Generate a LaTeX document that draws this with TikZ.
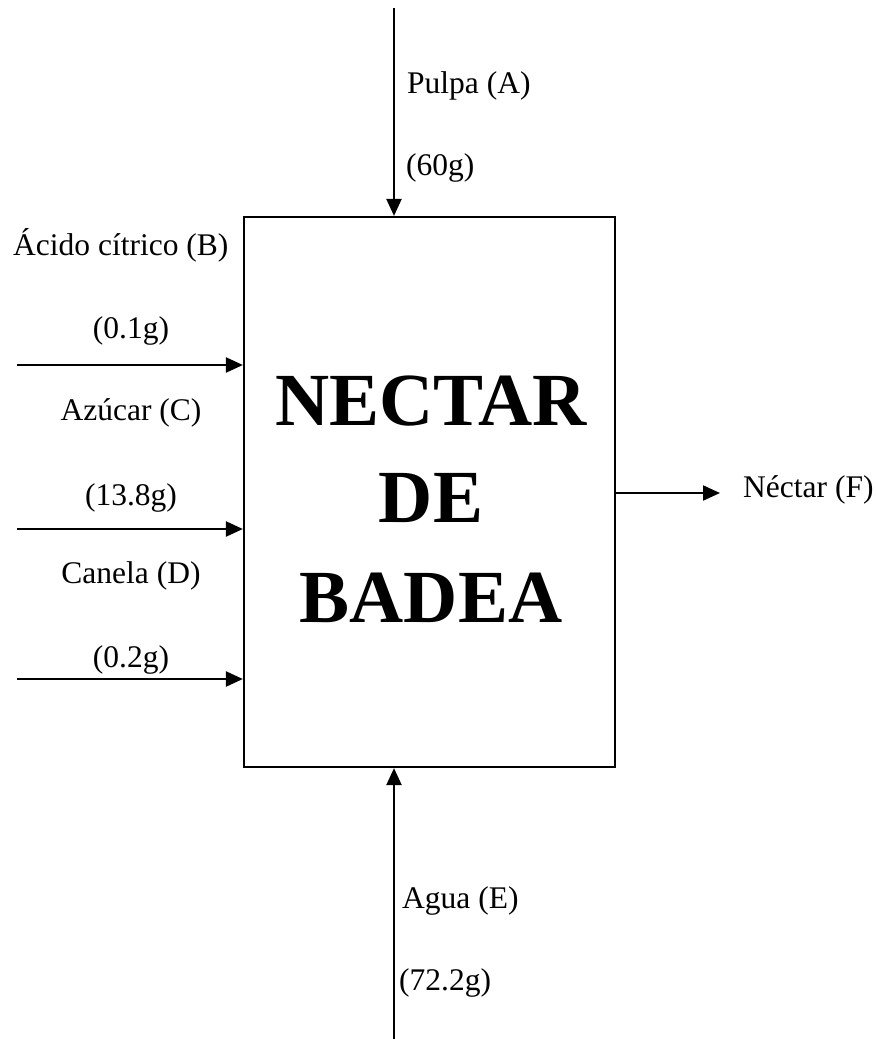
\documentclass[tikz,border=0pt]{standalone}
\usepackage{fontspec}
\setmainfont{Liberation Serif}
\usetikzlibrary{arrows.meta}
\begin{document}
\begin{tikzpicture}[x=1pt,y=-1pt,
  lbl/.style={inner sep=0pt,font=\fontsize{31.5}{36}\selectfont},
  big/.style={inner sep=0pt,font=\fontsize{75}{90}\selectfont\bfseries},
  flow/.style={line width=2.2pt,-{Triangle[length=17pt,width=15pt]}},
  procbox/.style={draw,line width=2.2pt,inner sep=0pt,minimum width=371pt,minimum height=550pt}]
\useasboundingbox (0,0) rectangle (878,1039);
\node[procbox] (box) at (429.5,492) {};
\node[big,anchor=base] (t1) at (431,425) {NECTAR};
\node[big,anchor=base] (t2) at (431,522) {DE};
\node[big,anchor=base] (t3) at (431,622) {BADEA};
% inputs/outputs
\coordinate (tA) at (394,8);
\coordinate (lB) at (17,365);
\coordinate (lC) at (17,529);
\coordinate (lD) at (17,679);
\coordinate (bE) at (394,1039);
\coordinate (rF) at (720,493);
\draw[flow] (tA) -- (tA |- box.north);
\draw[flow] (lB) -- (lB -| box.west);
\draw[flow] (lC) -- (lC -| box.west);
\draw[flow] (lD) -- (lD -| box.west);
\draw[flow] (bE) -- (bE |- box.south);
\draw[flow] (rF -| box.east) -- (rF);
% labels
\node[lbl,anchor=base west] (la1) at (407,93) {Pulpa (A)};
\node[lbl,anchor=base west] (la2) at (406,175) {(60g)};
\node[lbl,anchor=base west] (lb1) at (13,255) {Ácido cítrico (B)};
\node[lbl,anchor=base] (lb2) at (131,338) {(0.1g)};
\node[lbl,anchor=base] (lc1) at (131,420) {Azúcar (C)};
\node[lbl,anchor=base] (lc2) at (131,505) {(13.8g)};
\node[lbl,anchor=base] (ld1) at (131,583) {Canela (D)};
\node[lbl,anchor=base] (ld2) at (131,667) {(0.2g)};
\node[lbl,anchor=base west] (lf) at (743,497) {Néctar (F)};
\node[lbl,anchor=base west] (le1) at (402,908) {Agua (E)};
\node[lbl,anchor=base west] (le2) at (399,990) {(72.2g)};
\end{tikzpicture}
\end{document}
